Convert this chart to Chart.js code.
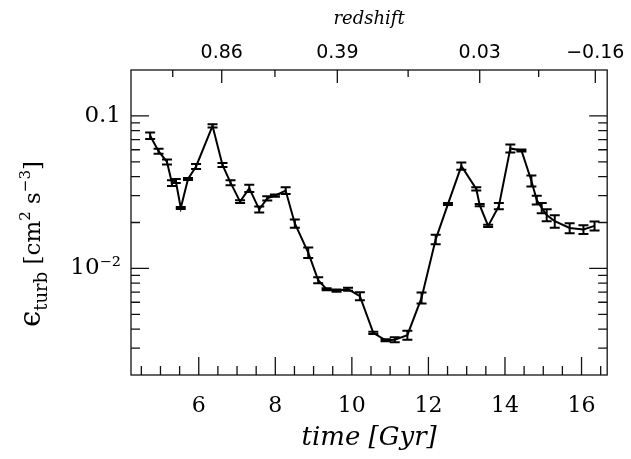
<!DOCTYPE html>
<html>
<head>
<meta charset="utf-8">
<script src="https://cdn.jsdelivr.net/npm/chart.js@4"></script>
<style>
  html, body { margin: 0; padding: 0; background: #fff; }
</style>
</head>
<body>
<canvas id="chart" width="631" height="459"></canvas>
<script>
// ==================== data ====================
const times = [4.73, 4.95, 5.17, 5.30, 5.40, 5.53, 5.72, 5.93, 6.36, 6.62, 6.83, 7.08, 7.32, 7.58, 7.79, 7.99,
  8.27, 8.51, 8.86, 9.12, 9.34, 9.60, 9.90, 10.21, 10.56, 10.88, 11.12, 11.45, 11.82, 12.19, 12.51, 12.86,
  13.25, 13.34, 13.56, 13.84, 14.14, 14.43, 14.69, 14.83, 14.96, 15.09, 15.30, 15.69, 16.05, 16.34];
const epsTurb = [0.0742, 0.0587, 0.0499, 0.0363, 0.0374, 0.0249, 0.0386, 0.0466, 0.0860, 0.0477, 0.0365, 0.0274,
  0.0335, 0.0244, 0.0288, 0.0300, 0.0324, 0.0197, 0.0127, 0.00838, 0.00731, 0.00715, 0.00731, 0.00658, 0.00378,
  0.00338, 0.00341, 0.00365, 0.00641, 0.0155, 0.0264, 0.0469, 0.0332, 0.0260, 0.0190, 0.0256, 0.0612, 0.0594,
  0.0376, 0.0281, 0.0249, 0.0224, 0.0204, 0.0184, 0.0180, 0.0190];
const epsErr = [0.0037, 0.0022, 0.0019, 0.0016, 0.0011, 0.0004, 0.0006, 0.0018, 0.0020, 0.0014, 0.0014, 0.0006,
  0.0018, 0.0011, 0.0009, 0.0005, 0.0017, 0.0012, 0.0010, 0.00038, 0.00011, 0.00011, 0.00017, 0.00040, 0.00006,
  0.00005, 0.00013, 0.00025, 0.00053, 0.0011, 0.0004, 0.0025, 0.0008, 0.0004, 0.0003, 0.0012, 0.0037, 0.0009,
  0.0031, 0.0019, 0.0019, 0.0020, 0.0019, 0.0014, 0.0012, 0.0013];

const timeTicks = [6, 8, 10, 12, 14, 16];
const redshiftLabels = ['0.86', '0.39', '0.03', '\u22120.16'];
const redshiftTimes = [6.60, 9.62, 13.34, 16.36];
const redshiftMinorTimes = [5.32, 7.99, 11.47, 14.88];
const yLabelTicks = [0.01, 0.1];

const X_MIN = 4.23, X_MAX = 16.67, Y_MIN = 0.002, Y_MAX = 0.2;

// ==================== plugins ====================
const errorBars = {
  id: 'errorBars',
  afterDatasetsDraw(chart) {
    const { ctx, scales: { x, y } } = chart;
    ctx.save();
    ctx.strokeStyle = '#000';
    ctx.lineWidth = 2;
    ctx.beginPath();
    times.forEach((t, i) => {
      const px = x.getPixelForValue(t);
      const top = y.getPixelForValue(epsTurb[i] + epsErr[i]);
      const bot = y.getPixelForValue(epsTurb[i] - epsErr[i]);
      ctx.moveTo(px, top); ctx.lineTo(px, bot);
      ctx.moveTo(px - 5, top); ctx.lineTo(px + 5, top);
      ctx.moveTo(px - 5, bot); ctx.lineTo(px + 5, bot);
    });
    ctx.stroke();
    ctx.restore();
  }
};

const frameTicks = {
  id: 'frameTicks',
  afterDatasetsDraw(chart) {
    const { ctx, chartArea: a, scales: { x, y } } = chart;
    ctx.save();
    ctx.strokeStyle = '#111';
    ctx.lineWidth = 1.3;
    ctx.strokeRect(a.left, a.top, a.right - a.left, a.bottom - a.top);
    ctx.beginPath();
    // bottom: major every 2 Gyr, minor every 0.5
    for (let k = 9; k <= 33; k++) {
      const px = x.getPixelForValue(k / 2);
      const len = (k % 4 === 0) ? 18 : 9;
      ctx.moveTo(px, a.bottom); ctx.lineTo(px, a.bottom - len);
    }
    // top: redshift ticks
    redshiftTimes.forEach(t => { const px = x.getPixelForValue(t); ctx.moveTo(px, a.top); ctx.lineTo(px, a.top + 13); });
    redshiftMinorTimes.forEach(t => { const px = x.getPixelForValue(t); ctx.moveTo(px, a.top); ctx.lineTo(px, a.top + 7); });
    // left + right log ticks
    [0.001, 0.01, 0.1].forEach(d => {
      for (let m = 1; m <= 9; m++) {
        const v = m * d;
        if (v <= Y_MIN * 1.001 || v >= Y_MAX * 0.999) continue;
        const py = y.getPixelForValue(v);
        const len = m === 1 ? 18 : 9;
        ctx.moveTo(a.left, py); ctx.lineTo(a.left + len, py);
        ctx.moveTo(a.right, py); ctx.lineTo(a.right - len, py);
      }
    });
    ctx.stroke();
    ctx.restore();
  }
};

const yTitle = {
  id: 'yTitle',
  afterDraw(chart) {
    const { ctx } = chart;
    const parts = [
      { t: '\u03f5', f: '29px "DejaVu Serif"', dy: 0 },
      { t: 'turb', f: '18px "DejaVu Serif"', dy: 7 },
      { t: ' [cm', f: '23px "DejaVu Serif"', dy: 0 },
      { t: '2', f: '15px "DejaVu Serif"', dy: -10 },
      { t: ' s', f: '23px "DejaVu Serif"', dy: 0 },
      { t: '\u22123', f: '15px "DejaVu Serif"', dy: -10 },
      { t: ']', f: '23px "DejaVu Serif"', dy: 0 }
    ];
    ctx.save();
    let total = 0;
    parts.forEach(p => { ctx.font = p.f; p.w = ctx.measureText(p.t).width; total += p.w; });
    ctx.translate(40, 244);
    ctx.rotate(-Math.PI / 2);
    ctx.fillStyle = '#000';
    ctx.textBaseline = 'alphabetic';
    let cx = -total / 2;
    parts.forEach(p => { ctx.font = p.f; ctx.fillText(p.t, cx, p.dy); cx += p.w; });
    ctx.restore();
  }
};

// ==================== chart ====================
new Chart(document.getElementById('chart'), {
  type: 'line',
  data: {
    datasets: [{
      data: times.map((t, i) => ({ x: t, y: epsTurb[i] })),
      borderColor: '#000',
      borderWidth: 2,
      pointRadius: 0,
      tension: 0,
      fill: false
    }]
  },
  options: {
    responsive: false,
    animation: false,
    layout: { padding: { right: 23 } },
    plugins: { legend: { display: false }, tooltip: { enabled: false } },
    scales: {
      x: {
        type: 'linear', position: 'bottom', min: X_MIN, max: X_MAX,
        afterBuildTicks: s => { s.ticks = timeTicks.map(v => ({ value: v })); },
        afterFit: s => { s.height = 84; },
        grid: { display: false, drawTicks: false },
        border: { display: false },
        ticks: { color: '#000', padding: 18, font: { family: 'DejaVu Serif', size: 22 }, maxRotation: 0 },
        title: { display: true, text: 'time [Gyr]', color: '#000', padding: { top: 0, bottom: 5 },
          font: { family: 'DejaVu Serif', size: 26, style: 'italic' } }
      },
      x2: {
        type: 'linear', position: 'top', min: X_MIN, max: X_MAX,
        afterBuildTicks: s => { s.ticks = redshiftTimes.map(v => ({ value: v })); },
        afterFit: s => { s.height = 70; },
        grid: { display: false, drawTicks: false },
        border: { display: false },
        ticks: { color: '#000', padding: 6, font: { family: 'DejaVu Sans', size: 19 }, maxRotation: 0,
          callback: (v, i) => redshiftLabels[i] },
        title: { display: true, text: 'redshift', color: '#000', padding: { top: 9, bottom: 0 },
          font: { family: 'DejaVu Serif', size: 18, style: 'italic' } }
      },
      y: {
        type: 'logarithmic', position: 'left', min: Y_MIN, max: Y_MAX,
        afterBuildTicks: s => { s.ticks = yLabelTicks.map(v => ({ value: v })); },
        afterFit: s => { s.width = 131; },
        grid: { display: false, drawTicks: false },
        border: { display: false },
        ticks: { color: '#000', padding: 10, font: { family: 'DejaVu Serif', size: 23 },
          callback: v => v === 0.1 ? '0.1' : '10\u207b\u00b2' }
      }
    }
  },
  plugins: [errorBars, frameTicks, yTitle]
});
</script>
</body>
</html>
